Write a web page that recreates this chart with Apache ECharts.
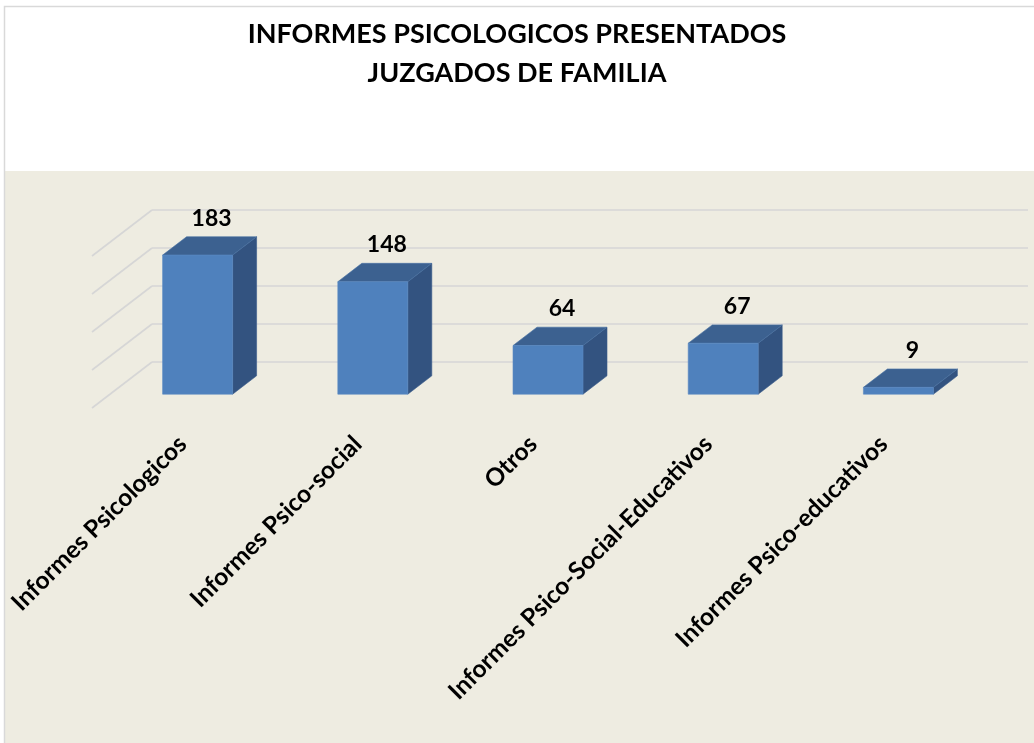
<!DOCTYPE html>
<html>
<head>
<meta charset="utf-8">
<script src="https://cdn.jsdelivr.net/npm/echarts@6/dist/echarts.min.js"></script>
<style>
  html, body { margin: 0; padding: 0; background: #ffffff; }
  #chart { width: 1034px; height: 743px; }
</style>
</head>
<body>
<div id="chart"></div>
<script>
// Report counts per type
var categories = [
  'Informes Psicologicos',
  'Informes Psico-social',
  'Otros',
  'Informes Psico-Social-Educativos',
  'Informes Psico-educativos'
];
var values = [183, 148, 64, 67, 9];
// Value gridline levels on the back wall
var gridTicks = [0, 50, 100, 150, 200];

// Depth of the 3D floor (back wall -> front edge) in pixels
var DEPTH_X = 60, DEPTH_Y = 46;
// Bars sit between 30% and 70% of the floor depth
var FRONT_F = 0.7, BACK_F = 0.3;
var BAR_W = 70;

var FONT = 'Lato, "Open Sans", sans-serif';

var chart = echarts.init(document.getElementById('chart'));

function renderBar(params, api) {
  var i = api.value(0);
  var v = api.value(1);
  var top = api.coord([i, v]);
  var base = api.coord([i, 0]);
  var fx = -DEPTH_X * FRONT_F, fy = DEPTH_Y * FRONT_F;
  var bx = -DEPTH_X * BACK_F, by = DEPTH_Y * BACK_F;
  var cx = top[0];
  // front face corners
  var fl = cx + fx - BAR_W / 2, fr = cx + fx + BAR_W / 2;
  var ft = top[1] + fy, fb = base[1] + fy;
  // back face corners
  var bl = cx + bx - BAR_W / 2, br = cx + bx + BAR_W / 2;
  var bt = top[1] + by, bb = base[1] + by;
  var midX = (fl + br) / 2 + 2;
  var midY = (ft + bt) / 2;
  return {
    type: 'group',
    children: [
      {
        type: 'polygon',
        shape: { points: [[fr, ft], [br, bt], [br, bb], [fr, fb]] },
        style: { fill: '#335380', stroke: '#3a5d8c', lineWidth: 0.6 }
      },
      {
        type: 'polygon',
        shape: { points: [[fl, ft], [fr, ft], [br, bt], [bl, bt]] },
        style: { fill: '#3c6190', stroke: '#4670a2', lineWidth: 0.6 }
      },
      {
        type: 'rect',
        shape: { x: fl, y: ft, width: BAR_W, height: fb - ft },
        style: { fill: '#4f81bd', stroke: '#5a8ac3', lineWidth: 0.6 }
      },
      {
        type: 'text',
        x: midX,
        y: midY - 16,
        style: {
          text: String(v),
          fill: '#000000',
          font: 'bold 23px ' + FONT,
          align: 'center',
          verticalAlign: 'bottom'
        }
      }
    ]
  };
}

function renderDiagonal(params, api) {
  var v = api.value(0);
  var p = api.coord([0, v]);
  var x0 = params.coordSys.x;
  return {
    type: 'line',
    shape: { x1: x0, y1: p[1], x2: x0 - DEPTH_X, y2: p[1] + DEPTH_Y },
    style: { stroke: '#d6d6d6', lineWidth: 1.6 }
  };
}

var option = {
  backgroundColor: '#ffffff',
  animation: false,
  title: {
    text: 'INFORMES PSICOLOGICOS PRESENTADOS\nJUZGADOS DE FAMILIA',
    left: 'center',
    top: 10,
    textStyle: {
      fontFamily: FONT,
      fontWeight: 'bold',
      fontSize: 27,
      lineHeight: 39,
      color: '#000000'
    }
  },
  graphic: [
    {
      type: 'rect',
      z: -10,
      shape: { x: 5, y: 171, width: 1040, height: 600 },
      style: { fill: '#eeece1' }
    },
    {
      type: 'rect',
      z: -9,
      shape: { x: 4.5, y: 6.5, width: 1100, height: 800 },
      style: { fill: 'none', stroke: '#d9d9d9', lineWidth: 1.5 }
    }
  ],
  grid: [
    // back wall
    { left: 152, width: 876, top: 210, height: 152, containLabel: false, outerBoundsMode: 'none' },
    // front edge of the floor (category labels)
    { left: 95, width: 876, top: 256, height: 152, containLabel: false, outerBoundsMode: 'none' }
  ],
  xAxis: [
    {
      type: 'category', gridIndex: 0, data: categories,
      axisLine: { show: false }, axisTick: { show: false }, axisLabel: { show: false },
      splitLine: { show: false }
    },
    {
      type: 'category', gridIndex: 1, data: categories,
      axisLine: { show: false }, axisTick: { show: false },
      splitLine: { show: false },
      axisLabel: {
        interval: 0,
        rotate: 45,
        margin: 32,
        color: '#000000',
        fontFamily: FONT,
        fontWeight: 'bold',
        fontSize: 24.5,
        hideOverlap: false
      }
    }
  ],
  yAxis: [
    {
      type: 'value', gridIndex: 0, min: 0, max: 200, interval: 50,
      axisLine: { show: false }, axisTick: { show: false }, axisLabel: { show: false },
      splitLine: { show: true, lineStyle: { color: '#d6d6d6', width: 1.6 } }
    },
    {
      type: 'value', gridIndex: 1, min: 0, max: 200, interval: 50, show: false,
      splitLine: { show: false }
    }
  ],
  series: [
    {
      type: 'custom',
      name: 'floor',
      xAxisIndex: 0, yAxisIndex: 0,
      data: gridTicks.map(function (t) { return [t]; }),
      encode: { y: 0 },
      renderItem: renderDiagonal,
      silent: true,
      z: 1
    },
    {
      type: 'custom',
      name: 'Informes',
      xAxisIndex: 0, yAxisIndex: 0,
      data: values.map(function (v, i) { return [i, v]; }),
      encode: { x: 0, y: 1 },
      renderItem: renderBar,
      z: 5
    }
  ]
};

chart.setOption(option);
</script>
</body>
</html>
